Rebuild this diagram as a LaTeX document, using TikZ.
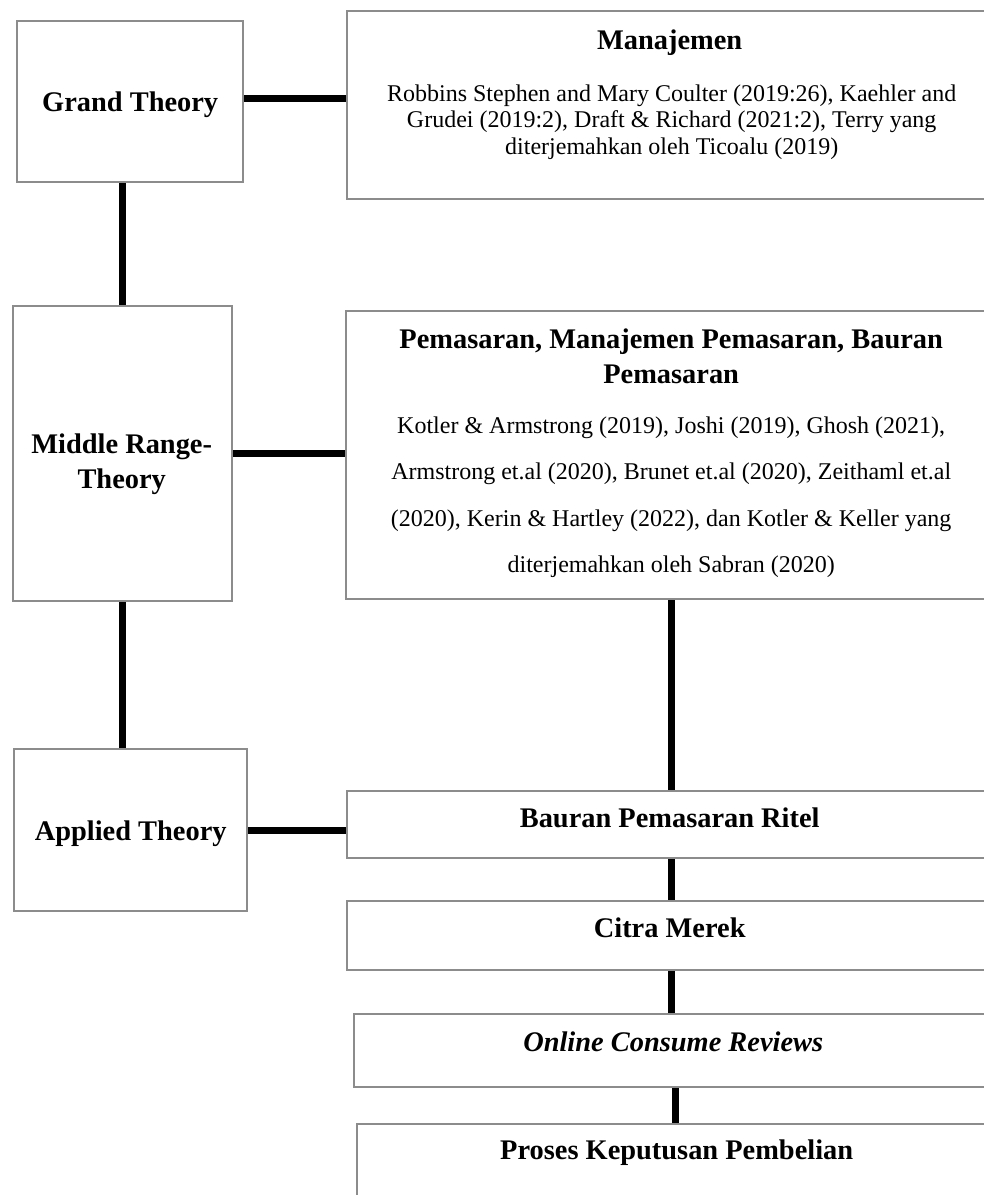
\documentclass[tikz,border=0pt]{standalone}
\usepackage{fontspec}
\setmainfont{Liberation Serif}
\usetikzlibrary{calc}
\begin{document}
\begin{tikzpicture}[x=0.5pt,y=-0.5pt,
  box/.style={draw=black!45, line width=1.2pt, rectangle, anchor=north west, inner sep=0pt, fill=white},
  conn/.style={line width=3.5pt, black},
  ttl/.style={font=\fontsize{14.2}{18}\selectfont\bfseries, align=center, inner sep=0pt},
  ttltwo/.style={font=\fontsize{14.2}{17.5}\selectfont\bfseries, align=center, inner sep=0pt},
  bodytxt/.style={font=\fontsize{12}{13.25}\selectfont, align=center, inner sep=0pt},
  bodywide/.style={font=\fontsize{12}{23.3}\selectfont, align=center, inner sep=0pt}]
\useasboundingbox (0,0) rectangle (984,1195);
\clip (0,0) rectangle (984,1195);
\fill[white] (0,0) rectangle (984,1195);
% left column
\node[box, minimum width=113pt, minimum height=80.5pt] (gt) at (16,20) {};
\node[box, minimum width=109.5pt, minimum height=147.5pt] (mr) at (12,305) {};
\node[box, minimum width=116.5pt, minimum height=81pt] (at) at (13,748) {};
% right column
\node[box, minimum width=324.5pt, minimum height=94pt] (man) at (346,10) {};
\node[box, minimum width=325pt, minimum height=144pt] (pem) at (345,310) {};
\node[box, minimum width=324.5pt, minimum height=33.5pt] (bau) at (346,790) {};
\node[box, minimum width=324.5pt, minimum height=34.5pt] (cit) at (346,900) {};
\node[box, minimum width=321pt, minimum height=36.5pt] (onl) at (353,1013) {};
\node[box, minimum width=319.5pt, minimum height=50pt] (pro) at (356,1123) {};
% texts
\node[ttl, anchor=base] (gtt) at ($(gt.center)+(0,9.5)$) {Grand Theory};
\node[ttltwo, anchor=north] (mrt) at ($(mr.center)+(-1,-20)$) {Middle Range-\\Theory};
\node[ttl, anchor=base] (att) at ($(at.center)+(0,10.5)$) {Applied Theory};
\node[ttl, anchor=base] (baut) at ($(bau.center)+(-2,3)$) {Bauran Pemasaran Ritel};
\node[ttl, anchor=base] (citt) at ($(cit.center)+(-2,1.5)$) {Citra Merek};
\node[ttl, anchor=base] (onlt) at ($(onl.center)+(-2,0.5)$) {\itshape Online Consume Reviews};
\node[ttl, anchor=base] (mant) at ($(man.north)+(-2,39)$) {Manajemen};
\node[bodytxt, anchor=north] (manb) at ($(man.north)+(0,74)$) {Robbins Stephen and Mary Coulter (2019:26), Kaehler and\\Grudei (2019:2), Draft \& Richard (2021:2), Terry yang\\diterjemahkan oleh Ticoalu (2019)};
\node[ttltwo, anchor=north] (pemt) at ($(pem.north)+(0,18)$) {Pemasaran, Manajemen Pemasaran, Bauran\\Pemasaran};
\node[bodywide, anchor=north] (pemb) at ($(pem.north)+(0,106)$) {Kotler \& Armstrong (2019), Joshi (2019), Ghosh (2021),\\Armstrong et.al (2020), Brunet et.al (2020), Zeithaml et.al\\(2020), Kerin \& Hartley (2022), dan Kotler \& Keller yang\\diterjemahkan oleh Sabran (2020)};
\node[ttl, anchor=base] (prot) at ($(pro.north)+(0,36)$) {Proses Keputusan Pembelian};
% connectors
\draw[conn] (gt.east) ++(0,-3) coordinate (gte) (gte) -- (gte -| man.west);
\draw[conn] (mr.north |- gt.south) -- (mr.north);
\draw[conn] (mr.east) -- (mr.east -| pem.west);
\draw[conn] (mr.south) -- (mr.south |- at.north);
\draw[conn] (at.east) -- (at.east -| bau.west);
\draw[conn] (bau.north |- pem.south) -- (bau.north);
\draw[conn] (bau.south) -- (bau.south |- cit.north);
\draw[conn] (cit.south) -- (cit.south |- onl.north);
\draw[conn] (onl.south) -- (onl.south |- pro.north);
\end{tikzpicture}
\end{document}
